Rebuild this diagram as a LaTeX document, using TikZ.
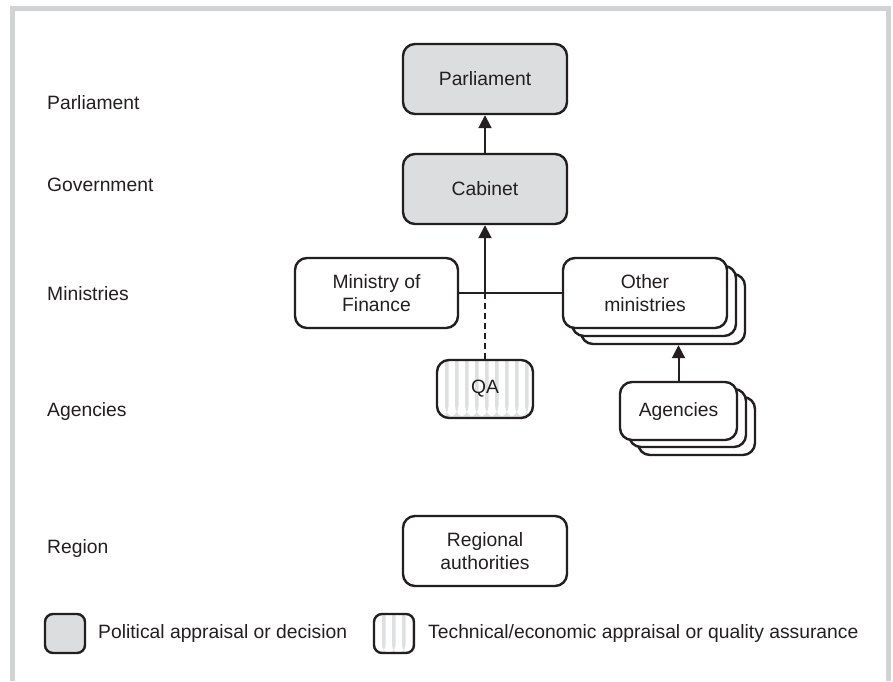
\documentclass[tikz,border=0pt]{standalone}
\usepackage{fontspec}
\setmainfont{Liberation Sans}
\usetikzlibrary{arrows.meta}
\definecolor{ink}{HTML}{231F20}
\definecolor{boxgray}{HTML}{DCDDDE}
\definecolor{framegray}{HTML}{D0D2D3}
\definecolor{stripegray}{HTML}{DEDFE0}
\tikzset{
  x=1pt, y=-1pt,
  textstyle/.style={text=ink, font=\fontsize{19.3}{23}\selectfont},
  base/.style={draw=ink, line width=2.4pt, rounded corners=12pt, align=center,
    textstyle, inner sep=0pt},
  bigbox/.style={base, minimum width=164pt, minimum height=70pt},
  political/.style={bigbox, fill=boxgray},
  plainbox/.style={bigbox, fill=white},
  striped/.style={base, fill=white, path picture={
      \foreach \k in {0,...,30}{
        \fill[stripegray] ([xshift=8pt+\k*10pt]path picture bounding box.south west)
          rectangle ++(3.5pt,200pt);}}},
  levellabel/.style={anchor=west, textstyle, inner sep=0pt},
  link/.style={draw=ink, line width=2pt},
  uparrow/.style={link, -{Triangle[width=13pt,length=13pt]}},
}
\begin{document}
\begin{tikzpicture}
\useasboundingbox (0,0) rectangle (893,681);
\fill[white] (0,0) rectangle (893,681);
% open frame
\draw[framegray, line width=5pt] (12.5,681) -- (12.5,8.5) -- (888.5,8.5) -- (888.5,681);

% level labels
\node[levellabel] (lpar) at (47,103) {Parliament};
\node[levellabel] (lgov) at (47,185) {Government};
\node[levellabel] (lmin) at (47,294) {Ministries};
\node[levellabel] (lage) at (47,411) {Agencies};
\node[levellabel] (lreg) at (47,548) {Region};

% political bodies
\node[political] (parl) at (485,79) {Parliament};
\node[political] (cab) at (485,189) {Cabinet};

% ministries
\node[plainbox, minimum width=163pt] (mof) at (376.5,293) {Ministry of\\Finance};
\node[plainbox] (oth3) at (663,309) {};
\node[plainbox] (oth2) at (654,301) {};
\node[plainbox] (oth) at (645,293) {Other\\ministries};

% agencies
\node[striped, minimum width=96pt, minimum height=58pt] (qa) at (485,389) {QA};
\node[plainbox, minimum width=117pt, minimum height=58pt] (ag3) at (696.5,426) {};
\node[plainbox, minimum width=117pt, minimum height=58pt] (ag2) at (687.5,418) {};
\node[plainbox, minimum width=117pt, minimum height=58pt] (ag) at (678.5,411) {Agencies};

% region
\node[plainbox] (reg) at (485,551) {Regional\\authorities};

% connectors
\coordinate (j) at (cab.south |- mof.east);
\draw[link] (mof.east) -- (oth.west);
\draw[uparrow] (j) -- (cab.south);
\draw[uparrow] (cab.north) -- (parl.south);
\draw[link, dashed, dash pattern=on 6pt off 4pt] (j) -- (qa.north);
\draw[uparrow] (ag.north) -- (ag.north |- oth3.south);

% legend
\node[base, fill=boxgray, rounded corners=8pt, minimum width=40pt, minimum height=39pt] (legpol) at (65,633.5) {};
\node[levellabel] (legpoltext) at (98,633) {Political appraisal or decision};
\node[striped, rounded corners=8pt, minimum width=40pt, minimum height=39pt] (legqa) at (394,633.5) {};
\node[levellabel] (legqatext) at (428,633) {Technical/economic appraisal or quality assurance};
\end{tikzpicture}
\end{document}
